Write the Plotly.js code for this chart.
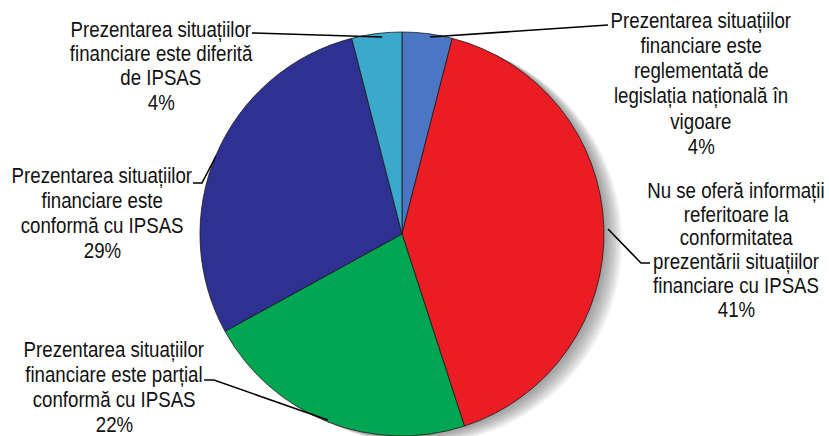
<!DOCTYPE html>
<html>
<head>
<meta charset="utf-8">
<script src="https://cdn.plot.ly/plotly-3.0.1.min.js"></script>
<style>html,body{margin:0;padding:0;background:#fff;}#chart{width:829px;height:436px;}</style>
</head>
<body>
<div id="chart"></div>
<script>
// ---- data ----
const categories = [
  "Prezentarea situațiilor financiare este reglementată de legislația națională în vigoare",
  "Nu se oferă informații referitoare la conformitatea prezentării situațiilor financiare cu IPSAS",
  "Prezentarea situațiilor financiare este parțial conformă cu IPSAS",
  "Prezentarea situațiilor financiare este conformă cu IPSAS",
  "Prezentarea situațiilor financiare este diferită de IPSAS"
];
const values = [4, 41, 22, 29, 4];
const labelLines = [
  ["Prezentarea situațiilor", "financiare este", "reglementată de", "legislația națională în", "vigoare"],
  ["Nu se oferă informații", "referitoare la", "conformitatea", "prezentării situațiilor", "financiare cu IPSAS"],
  ["Prezentarea situațiilor", "financiare este parțial", "conformă cu IPSAS"],
  ["Prezentarea situațiilor", "financiare este", "conformă cu IPSAS"],
  ["Prezentarea situațiilor", "financiare este diferită", "de IPSAS"]
];
const colors = ["#4a76c4", "#ec1c24", "#00a651", "#2e3192", "#3ba9cb"];

// ---- layout config (pixels) ----
const W = 829, H = 436;
const cx = 402, cy = 234, R = 202;
// label placement: center x, first baseline, line spacing
const labelPos = [
  [701, 28, 25.2],
  [736, 198, 23.8],
  [114, 357, 25],
  [102, 183, 25],
  [161, 37, 24.3]
];
// leader lines (pixel paths)
const leaders = [
  [[430, 37], [608, 25]],
  [[608, 229], [641, 263], [650, 263]],
  [[204, 380], [214, 380], [328, 420]],
  [[193, 183], [202, 183], [216, 156]],
  [[252, 33], [382, 37]]
];
const FS = 22.5;
const XSCALE = 0.83;
const FONT = "'Liberation Sans', Arial, sans-serif";

const px = x => x / W;
const py = y => 1 - y / H;

const trace = {
  type: 'pie',
  labels: categories,
  values: values,
  sort: false,
  direction: 'clockwise',
  rotation: 0,
  textinfo: 'none',
  hoverinfo: 'label+percent',
  showlegend: false,
  marker: { colors: colors, line: { color: '#1a1a1a', width: 0.8 } },
  domain: { x: [px(cx - R), px(cx + R)], y: [py(cy + R), py(cy - R)] }
};

const annotations = [];
labelLines.forEach((lines, i) => {
  const all = lines.concat([values[i] + '%']);
  const [lx, b0, sp] = labelPos[i];
  all.forEach((t, k) => {
    const base = b0 + k * sp;
    annotations.push({
      xref: 'paper', yref: 'paper',
      x: px(lx), y: py(base - 0.3465 * FS),
      xanchor: 'center', yanchor: 'middle',
      text: t, showarrow: false,
      font: { family: FONT, size: FS, color: '#111' },
      borderpad: 0
    });
  });
});

const shapes = [];
// soft shadow to the right / lower right
for (let d = 1; d <= 9; d++) {
  const ox = d * 2.0, oy = d * 0.9;
  shapes.push({
    type: 'circle', xref: 'paper', yref: 'paper', layer: 'below',
    x0: px(cx - R + ox), x1: px(cx + R + ox),
    y0: py(cy + R + oy), y1: py(cy - R + oy),
    fillcolor: 'rgba(70,70,70,0.07)', line: { width: 0 }
  });
}
leaders.forEach(pts => {
  const path = pts.map((p, i) => (i ? 'L' : 'M') + px(p[0]) + ',' + py(p[1])).join(' ');
  shapes.push({
    type: 'path', xref: 'paper', yref: 'paper', layer: 'above',
    path: path, line: { color: '#000', width: 1.6 }
  });
});

const layout = {
  width: W, height: H,
  margin: { l: 0, r: 0, t: 0, b: 0 },
  paper_bgcolor: '#fff', plot_bgcolor: '#fff',
  annotations: annotations,
  shapes: shapes,
  showlegend: false
};

Plotly.newPlot('chart', [trace], layout, { displayModeBar: false, staticPlot: true }).then(gd => {
  // condense label glyphs horizontally (narrow typeface look), about each text's center
  gd.querySelectorAll('text.annotation-text').forEach(el => {
    const bb = el.getBBox();
    const c = bb.x + bb.width / 2;
    el.setAttribute('transform',
      'translate(' + c + ',0) scale(' + XSCALE + ',1) translate(' + (-c) + ',0)');
  });
});
</script>
</body>
</html>
